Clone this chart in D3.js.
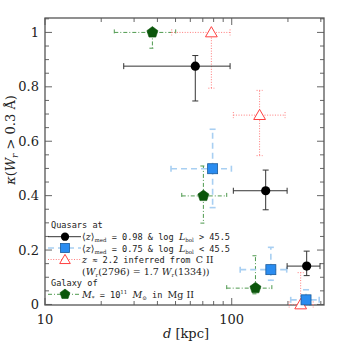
<!DOCTYPE html>
<html><head><meta charset="utf-8">
<script src="https://cdn.jsdelivr.net/npm/d3@7"></script>
<style>body{margin:0;background:#fff}svg{display:block}</style>
</head><body><svg id="c" width="343" height="343"></svg>
<script>
// Quasars <z>=0.98, logL>45.5 (black circles)
const qHiD   = [63.8, 152, 252];
const qHiK   = [0.876, 0.418, 0.141];
const qHiDlo = [26.4, 102, 198];
const qHiDhi = [98, 198, 297];
const qHiKlo = [0.748, 0.348, 0.106];
const qHiKhi = [0.915, 0.494, 0.196];
// Quasars <z>=0.75, logL<45.5 (blue squares)
const qLoD   = [79, 162, 250];
const qLoK   = [0.499, 0.128, 0.017];
const qLoDlo = [47.3, 111, 207];
const qLoDhi = [99.6, 197, 294];
const qLoKlo = [0.356, 0.089, 0.0];
const qLoKhi = [0.644, 0.21, 0.054];
// z~2.2 inferred from CII (red open triangles)
const civD   = [77.8, 141, 234];
const civK   = [1.0, 0.696, 0.0];
const civDlo = [47.7, 102, 203];
const civDhi = [98, 193, 273];
const civKlo = [0.795, 0.547, 0.0];
const civKhi = [1.0, 0.787, 0.117];
// Galaxy M*=1e11 in MgII (green pentagons)
const galD   = [37.6, 70.5, 134];
const galK   = [1.0, 0.399, 0.060];
const galDlo = [23.5, 54, 94];
const galDhi = [50.1, 94, 164];
const galKlo = [0.942, 0.299, 0.039];
const galKhi = [1.0, 0.509, 0.179];

const xMajor = [10, 100];
const xMinor = [20,30,40,50,60,70,80,90,200,300];
const yMajor = [0, 0.2, 0.4, 0.6, 0.8, 1];
const yMinor = d3.range(0, 1.051, 0.05);

const svg = d3.select('#c');
const L = 45, R = 324, T = 18, B = 305;
const x = d3.scaleLog().domain([10, 312]).range([L, R]);
const y = d3.scaleLinear().domain([-0.002, 1.053]).range([B, T]);

const tickCol = '#666';
const g = svg.append('g');
function xt(vals, len){
  vals.forEach(v=>{
    g.append('line').attr('x1',x(v)).attr('x2',x(v)).attr('y1',B).attr('y2',B-len).attr('stroke',tickCol).attr('stroke-width',1);
    g.append('line').attr('x1',x(v)).attr('x2',x(v)).attr('y1',T).attr('y2',T+len).attr('stroke',tickCol).attr('stroke-width',1);
  });
}
function yt(vals, len){
  vals.forEach(v=>{
    g.append('line').attr('y1',y(v)).attr('y2',y(v)).attr('x1',L).attr('x2',L+len).attr('stroke',tickCol).attr('stroke-width',1);
    g.append('line').attr('y1',y(v)).attr('y2',y(v)).attr('x1',R).attr('x2',R-len).attr('stroke',tickCol).attr('stroke-width',1);
  });
}
xt(xMajor, 7); xt(xMinor, 4);
yt(yMajor, 7); yt(yMinor.filter(v=>Math.abs(v*5-Math.round(v*5))>1e-6), 4);
svg.append('rect').attr('x',L).attr('y',T).attr('width',R-L).attr('height',B-T)
  .attr('fill','none').attr('stroke','#555').attr('stroke-width',1.3);

const serif = "'DejaVu Serif', serif";
yMajor.forEach(v=>{
  svg.append('text').attr('x',L-6).attr('y',y(v)+4.5).attr('text-anchor','end')
    .attr('font-family',serif).attr('font-size',13).attr('fill','#222').text(v===0?'0':(v===1?'1':v.toFixed(1)));
});
xMajor.forEach(v=>{
  svg.append('text').attr('x',x(v)).attr('y',B+19).attr('text-anchor','middle')
    .attr('font-family',serif).attr('font-size',13).attr('fill','#222').text(v);
});
const xl = svg.append('text').attr('x',186).attr('y',338).attr('text-anchor','middle')
  .attr('font-family',serif).attr('font-size',13).attr('fill','#222');
xl.append('tspan').attr('font-style','italic').text('d');
xl.append('tspan').text('  [kpc]');
const yl = svg.append('text').attr('transform','translate(15,140) rotate(-90)').attr('text-anchor','middle')
  .attr('font-family',serif).attr('font-size',13).attr('fill','#222');
yl.append('tspan').attr('font-style','italic').text('κ');
yl.append('tspan').text('(');
yl.append('tspan').attr('font-style','italic').text('W');
yl.append('tspan').attr('font-style','italic').attr('font-size',9).attr('dy',3).text('r');
yl.append('tspan').attr('dy',-3).text(' > 0.3 Å)');

const series = [
  {d:galD,k:galK,dlo:galDlo,dhi:galDhi,klo:galKlo,khi:galKhi,col:'#4f9a4f',dash:'4,2,1,2',w:1,m:'pent'},
  {d:civD,k:civK,dlo:civDlo,dhi:civDhi,klo:civKlo,khi:civKhi,col:'#ff7a7a',dash:'1,1.6',w:1,m:'tri'},
  {d:qLoD,k:qLoK,dlo:qLoDlo,dhi:qLoDhi,klo:qLoKlo,khi:qLoKhi,col:'#a8cff2',dash:'6,4',w:1.6,m:'sq'},
  {d:qHiD,k:qHiK,dlo:qHiDlo,dhi:qHiDhi,klo:qHiKlo,khi:qHiKhi,col:'#333',dash:null,w:1,m:'circ'}
];
const cap = 3;
function marker(sel, m, cx, cy, scale){
  scale = scale||1;
  if(m==='circ') sel.append('circle').attr('cx',cx).attr('cy',cy).attr('r',4.6*scale).attr('fill','#000');
  else if(m==='sq') sel.append('rect').attr('x',cx-5*scale).attr('y',cy-5*scale).attr('width',10*scale).attr('height',10*scale)
      .attr('fill','#2a8cf0').attr('stroke','#1a5a9a').attr('stroke-width',0.8);
  else if(m==='tri') sel.append('path').attr('d',d3.symbol().type(d3.symbolTriangle).size(60*scale*scale)())
      .attr('transform',`translate(${cx},${cy+1})`).attr('fill','#fff').attr('stroke','#ff4040').attr('stroke-width',1);
  else if(m==='pent'){
    const r=5.8*scale, pts=d3.range(5).map(i=>{const a=-Math.PI/2+i*2*Math.PI/5;return [cx+r*Math.cos(a),cy+r*Math.sin(a)];});
    sel.append('polygon').attr('points',pts.map(p=>p.join(',')).join(' ')).attr('fill','#0b560b').attr('stroke','#0b560b').attr('stroke-width',0.6);
  }
}
series.forEach(s=>{
  const gs = svg.append('g');
  const ln = (x1,y1,x2,y2)=>gs.append('line').attr('x1',x1).attr('y1',y1).attr('x2',x2).attr('y2',y2)
    .attr('stroke',s.col).attr('stroke-width',s.w).attr('stroke-dasharray',s.dash);
  s.d.forEach((d,i)=>{
    const cx=x(d), cy=y(s.k[i]);
    ln(x(s.dlo[i]),cy,x(s.dhi[i]),cy);
    ln(x(s.dlo[i]),cy-cap,x(s.dlo[i]),cy+cap);
    ln(x(s.dhi[i]),cy-cap,x(s.dhi[i]),cy+cap);
    if(s.klo[i]!==s.k[i]){ ln(cx,cy,cx,y(s.klo[i])); ln(cx-cap,y(s.klo[i]),cx+cap,y(s.klo[i])); }
    if(s.khi[i]!==s.k[i]){ ln(cx,cy,cx,y(s.khi[i])); ln(cx-cap,y(s.khi[i]),cx+cap,y(s.khi[i])); }
  });
});
series.forEach(s=>{ s.d.forEach((d,i)=>marker(svg, s.m, x(d), y(s.k[i]))); });

// legend
const mono = "'DejaVu Sans Mono', monospace";
const lg = svg.append('g').attr('fill','#222');
function txt(xp, yp, parts){
  const t = lg.append('text').attr('x',xp).attr('y',yp).attr('font-family',mono).attr('font-size',8.6).attr('fill','#222');
  parts.forEach(p=>{
    const ts=t.append('tspan').text(p[0]);
    if(p[1]==='i') ts.attr('font-family',serif).attr('font-style','italic').attr('font-size',9.5);
    if(p[1]==='r') ts.attr('font-family',serif).attr('font-size',9.5);
    if(p[1]==='sub') ts.attr('font-family',serif).attr('font-size',5.5).attr('dy',2);
    if(p[1]==='sup') ts.attr('font-family',serif).attr('font-size',5.5).attr('dy',-4);
    if(p[2]!==undefined) ts.attr('dy',p[2]);
  });
}
function legLine(yp, s){
  svg.append('line').attr('x1',48).attr('x2',81).attr('y1',yp).attr('y2',yp)
    .attr('stroke',s.col).attr('stroke-width',s.w).attr('stroke-dasharray',s.dash);
  marker(svg, s.m, 65, yp, 0.9);
}
txt(51, 228, [['Quasars at']]);
legLine(236.7, series[3]);
txt(82, 240, [['⟨','r'],['z','i'],['⟩','r'],['med','sub'],[' = 0.98 & log ',null,-2],['L','i'],['bol','sub'],[' > 45.5',null,-2]]);
legLine(248, series[2]);
txt(82, 251.5, [['⟨','r'],['z','i'],['⟩','r'],['med','sub'],[' = 0.75 & log ',null,-2],['L','i'],['bol','sub'],[' < 45.5',null,-2]]);
legLine(259.5, series[1]);
txt(82, 263, [['z','i'],[' ≈ 2.2 inferred from '],['C II','r']]);
txt(82, 275, [['(','r'],['W','i'],['r','sub'],['(2796) = 1.7 ','r',-2],['W','i'],['r','sub'],['(1334))','r',-2]]);
txt(51, 286, [['Galaxy of']]);
legLine(294.3, series[0]);
txt(82, 298, [['M','i'],['*','sub'],[' = 10',null,-2],['11','sup'],[' ',null,4],['M','i'],['⊙','sub'],[' in ',null,-2],['Mg II','r']]);
</script></body></html>
